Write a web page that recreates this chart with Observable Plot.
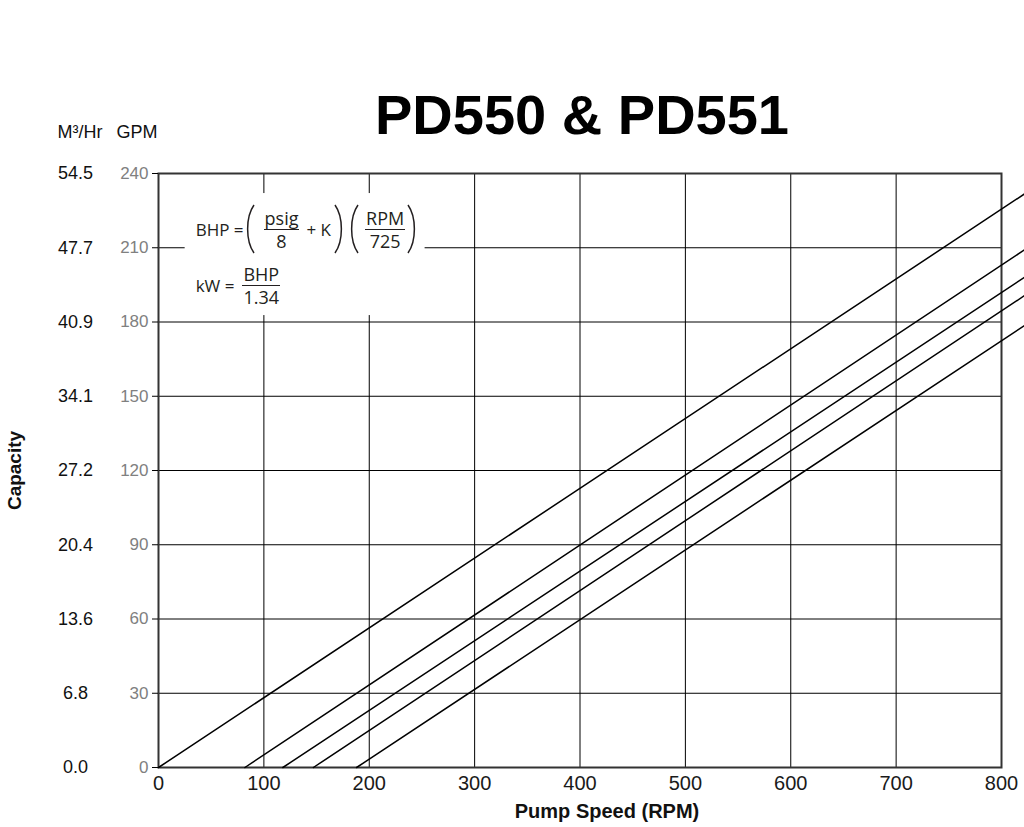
<!DOCTYPE html>
<html><head><meta charset="utf-8">
<script src="https://cdn.jsdelivr.net/npm/d3@7"></script>
<script src="https://cdn.jsdelivr.net/npm/@observablehq/plot@0.6"></script>
<style>
body{margin:0;background:#fff;}
#wrap{position:relative;width:1024px;height:827px;overflow:hidden;background:#fff;}
#formula{position:absolute;font-family:"Open Sans",sans-serif;font-size:17px;color:#231f20;}
#formula .row{position:absolute;left:11px;display:flex;align-items:center;white-space:nowrap;line-height:1;}
#formula .frac{display:inline-flex;flex-direction:column;align-items:center;font-size:18px;}
#formula .frac .n{border-bottom:1.2px solid #231f20;padding:0 1px 2px;}
#formula .frac .d{padding-top:2px;}
#formula svg.p{display:block;overflow:visible;}
#formula svg.p path{fill:none;stroke:#231f20;stroke-width:1.5;}
</style></head>
<body>
<div id="wrap"></div>
<script>
// ---- data ----
const title = "PD550 & PD551";
const xTicks = [0, 100, 200, 300, 400, 500, 600, 700, 800];          // Pump speed (RPM)
const gpmTicks = [0, 30, 60, 90, 120, 150, 180, 210, 240];           // Capacity GPM
const m3hrLabels = ["0.0", "6.8", "13.6", "20.4", "27.2", "34.1", "40.9", "47.7", "54.5"]; // Capacity M³/Hr
// five capacity lines: zero-capacity RPM and capacity (GPM) at the right edge
const lineStartRpm = [0, 82, 118, 147, 188];
const lineEndRpm = 822;
const lineEndGpm = [231.8, 209.2, 198.1, 190.7, 178.6];
// formula annotation box (data units)
const formulaBox = {x1: 25.3, x2: 253, y1: 182.6, y2: 231.9};

const lineRows = [];
lineStartRpm.forEach((s, i) => {
  lineRows.push({series: i, rpm: s, gpm: 0});
  lineRows.push({series: i, rpm: lineEndRpm, gpm: lineEndGpm[i]});
});

const font = "'Liberation Sans', Arial, sans-serif";
const chart = Plot.plot({
  width: 1024,
  height: 827,
  marginLeft: 158,
  marginRight: 23,
  marginTop: 173,
  marginBottom: 60,
  style: {fontFamily: font, background: "white", overflow: "visible"},
  x: {domain: [0, 800]},
  y: {domain: [0, 240]},
  marks: [
    Plot.gridX(xTicks, {stroke: "#000", strokeOpacity: 1, strokeWidth: 1}),
    Plot.gridY(gpmTicks, {stroke: "#000", strokeOpacity: 1, strokeWidth: 1}),
    Plot.rect([formulaBox], {x1: "x1", x2: "x2", y1: "y1", y2: "y2", fill: "white"}),
    Plot.frame({stroke: "#333", strokeWidth: 2}),
    Plot.line(lineRows, {x: "rpm", y: "gpm", z: "series", stroke: "#000", strokeWidth: 1.5}),
    Plot.axisX(xTicks, {tickSize: 0, tickPadding: 8, fontSize: 20, fill: "#1a1a1a", label: null}),
    Plot.axisY(gpmTicks, {tickSize: 6, tickPadding: 4, fontSize: 17, fill: "#808080", stroke: "#000", label: null}),
    Plot.text(gpmTicks, {y: d => d, text: (d, i) => m3hrLabels[i], frameAnchor: "left", dx: -83, textAnchor: "middle", lineAnchor: "middle", fontSize: 18, fill: "#111"}),
    Plot.text(["GPM"], {frameAnchor: "top-left", dx: -1, dy: -41, textAnchor: "end", lineAnchor: "middle", fontSize: 18, fill: "#111"}),
    Plot.text(["M³/Hr"], {frameAnchor: "top-left", dx: -101, dy: -41, textAnchor: "start", lineAnchor: "middle", fontSize: 18, fill: "#111"}),
    Plot.text([title], {frameAnchor: "top", dx: 2, dy: -57, lineAnchor: "middle", fontSize: 56, fontWeight: "bold", fill: "#000"}),
    Plot.text(["Pump Speed (RPM)"], {frameAnchor: "bottom", dx: 27, dy: 44, lineAnchor: "middle", fontSize: 20, fontWeight: "bold", fill: "#111"}),
    Plot.text(["Capacity"], {frameAnchor: "left", dx: -144, rotate: -90, textAnchor: "middle", lineAnchor: "middle", fontSize: 19, fontWeight: "bold", fill: "#111"})
  ]
});

const wrap = document.getElementById("wrap");
wrap.appendChild(chart);

// formula overlay placed through the chart's own scales
const sx = chart.scale("x"), sy = chart.scale("y");
const boxLeft = sx.apply(formulaBox.x1), boxRight = sx.apply(formulaBox.x2);
const boxTop = sy.apply(formulaBox.y2), boxBottom = sy.apply(formulaBox.y1);
const f = document.createElement("div");
f.id = "formula";
Object.assign(f.style, {left: boxLeft + "px", top: boxTop + "px", width: (boxRight - boxLeft) + "px", height: (boxBottom - boxTop) + "px"});
const lp = (m) => `<svg class="p" width="12" height="50" style="margin-left:${m}px"><path d="M10,1 C1.5,13 1.5,37 10,49"/></svg>`;
const rp = (m) => `<svg class="p" width="12" height="50" style="margin-left:${m}px"><path d="M2,1 C10.5,13 10.5,37 2,49"/></svg>`;
f.innerHTML = `
<div class="row" style="top:11px;height:50px">
  <span>BHP =</span>${lp(0)}
  <span class="frac" style="margin-left:8px"><span class="n">psig</span><span class="d">8</span></span>
  <span style="margin-left:7px">+ K</span>${rp(2)}${lp(3)}
  <span class="frac" style="margin-left:5px"><span class="n">RPM</span><span class="d">725</span></span>${rp(1)}
</div>
<div class="row" style="top:74px;height:36px">
  <span>kW =</span>
  <span class="frac" style="margin-left:8px"><span class="n">BHP</span><span class="d">1.34</span></span>
</div>`;
wrap.appendChild(f);
</script>
</body></html>
